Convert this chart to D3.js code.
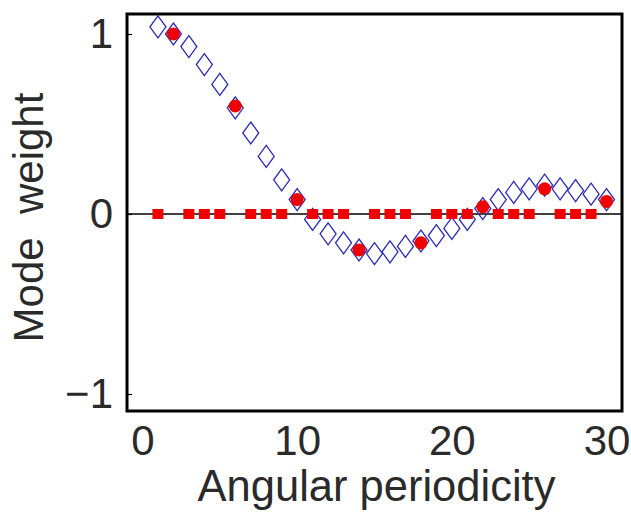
<!DOCTYPE html>
<html>
<head>
<meta charset="utf-8">
<script src="https://cdn.jsdelivr.net/npm/d3@7"></script>
<style>
	body { margin: 0; background: #fff; }
	svg { display: block; font-family: 'Liberation Sans', Arial, sans-serif; }
</style>
</head>
<body>
<svg width="631" height="521"></svg>
<script>

/////////////////////////////////////////////////////////////////////////
// data

var periodicity = [1,2,3,4,5,6,7,8,9,10,11,12,13,14,15,16,17,18,19,20,21,22,23,24,25,26,27,28,29,30]
var fullWeights = [1.04,1.00,0.93,0.83,0.72,0.59,0.45,0.32,0.19,0.08,-0.03,-0.11,-0.16,-0.20,-0.22,
	-0.21,-0.18,-0.15,-0.12,-0.08,-0.03,0.03,0.08,0.12,0.14,0.16,0.14,0.13,0.11,0.08]

var keptPeriods = [2,6,10,14,18,22,26,30]
var keptWeights = [1.00,0.60,0.08,-0.20,-0.16,0.04,0.14,0.07]

var zeroPeriods = [1,3,4,5,7,8,9,11,12,13,15,16,17,19,20,21,23,24,25,27,28,29]
var zeroWeights = [0,0,0,0,0,0,0,0,0,0,0,0,0,0,0,0,0,0,0,0,0,0]

var xTicks = [0,10,20,30]
var yTicks = [-1,0,1]

/////////////////////////////////////////////////////////////////////////
// frame and scales

var svg = d3.select('svg')
var frame = {left: 127, top: 14, right: 622, bottom: 411}

var x = d3.scaleLinear().domain([-1, 31]).range([frame.left, frame.right])
var y = d3.scaleLinear().domain([-1, 1]).range([394, 34])

svg.append('clipPath').attr('id', 'plot')
	.append('rect')
	.attr('x', frame.left).attr('y', frame.top)
	.attr('width', frame.right - frame.left).attr('height', frame.bottom - frame.top)

var g = svg.append('g').attr('clip-path', 'url(#plot)')

// zero line
g.append('line')
	.attr('x1', frame.left).attr('x2', frame.right)
	.attr('y1', y(0)).attr('y2', y(0))
	.attr('stroke', '#000').attr('stroke-width', 1.5)

// blue open diamonds
var full = periodicity.map(function(p, i) { return {p: p, w: fullWeights[i]} })
g.selectAll('.diamond').data(full).enter().append('path')
	.attr('class', 'diamond')
	.attr('transform', function(d) { return 'translate(' + x(d.p) + ',' + y(d.w) + ')' })
	.attr('d', 'M0,-11L8,0L0,11L-8,0Z')
	.attr('fill', 'none')
	.attr('stroke', '#2d2db4')
	.attr('stroke-width', 1.3)

// red squares on the zero line
var zeros = zeroPeriods.map(function(p, i) { return {p: p, w: zeroWeights[i]} })
g.selectAll('.sq').data(zeros).enter().append('rect')
	.attr('class', 'sq')
	.attr('x', function(d) { return x(d.p) - 5.5 })
	.attr('y', function(d) { return y(d.w) - 5 })
	.attr('width', 11).attr('height', 10)
	.attr('fill', '#f00000')

// red filled circles
var kept = keptPeriods.map(function(p, i) { return {p: p, w: keptWeights[i]} })
g.selectAll('.dot').data(kept).enter().append('circle')
	.attr('class', 'dot')
	.attr('cx', function(d) { return x(d.p) })
	.attr('cy', function(d) { return y(d.w) })
	.attr('r', 6.5)
	.attr('fill', '#f00000')

/////////////////////////////////////////////////////////////////////////
// axes

var yAxis = svg.append('g')
	.attr('transform', 'translate(' + frame.left + ',0)')
	.call(d3.axisLeft(y).tickValues(yTicks).tickSize(-5).tickPadding(14)
		.tickFormat(function(d) { return d < 0 ? '\u2212' + Math.abs(d) : d }))
yAxis.select('.domain').remove()
yAxis.selectAll('line').attr('stroke', '#000').attr('stroke-width', 1.2)
yAxis.selectAll('text').attr('font-size', 42).attr('fill', '#2a2a2a')
	.attr('font-family', "'Liberation Sans', Arial, sans-serif")

var xAxis = svg.append('g')
	.attr('transform', 'translate(0,' + frame.bottom + ')')
	.call(d3.axisBottom(x).tickValues(xTicks).tickSize(0).tickPadding(14))
xAxis.select('.domain').remove()
xAxis.selectAll('text').attr('font-size', 42).attr('fill', '#2a2a2a')
	.attr('font-family', "'Liberation Sans', Arial, sans-serif")

svg.append('rect')
	.attr('x', frame.left).attr('y', frame.top)
	.attr('width', frame.right - frame.left).attr('height', frame.bottom - frame.top)
	.attr('fill', 'none').attr('stroke', '#000').attr('stroke-width', 3)

// titles
svg.append('text')
	.attr('x', (frame.left + frame.right) / 2 + 2).attr('y', 501)
	.attr('text-anchor', 'middle').attr('font-size', 43.5).attr('fill', '#2a2a2a')
	.text('Angular periodicity')

svg.append('text')
	.attr('transform', 'translate(43,' + ((frame.top + frame.bottom) / 2 + 5) + ') rotate(-90)')
	.attr('text-anchor', 'middle').attr('font-size', 42).attr('fill', '#2a2a2a')
	.attr('xml:space', 'preserve').style('white-space', 'pre')
	.text('Mode  weight')

</script>
</body>
</html>
